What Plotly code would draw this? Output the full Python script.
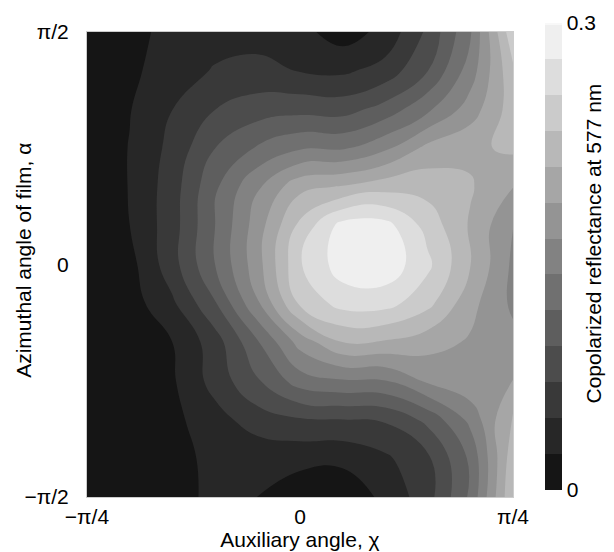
import math
import plotly.graph_objects as go

# Auxiliary angle chi (x) and azimuthal angle alpha (y) sample positions
chi = [-math.pi/4 + i*math.pi/20 for i in range(11)]
alpha = [-math.pi/2 + j*math.pi/12 for j in range(13)]

# Copolarized reflectance, rows from alpha=-pi/2 (bottom) to +pi/2 (top)
refl_r12 = [0.005, 0.007, 0.012, 0.030, 0.023, 0.009, 0.009, 0.028, 0.060, 0.120, 0.229]
refl_r11 = [0.005, 0.007, 0.014, 0.030, 0.030, 0.030, 0.028, 0.042, 0.065, 0.120, 0.222]
refl_r10 = [0.005, 0.007, 0.017, 0.037, 0.058, 0.067, 0.069, 0.072, 0.099, 0.145, 0.212]
refl_r9  = [0.005, 0.007, 0.020, 0.055, 0.090, 0.127, 0.136, 0.138, 0.166, 0.180, 0.185]
refl_r8  = [0.005, 0.009, 0.023, 0.058, 0.113, 0.171, 0.208, 0.205, 0.194, 0.182, 0.168]
refl_r7  = [0.005, 0.012, 0.042, 0.090, 0.159, 0.235, 0.263, 0.263, 0.238, 0.192, 0.157]
refl_r6  = [0.005, 0.015, 0.060, 0.115, 0.175, 0.252, 0.289, 0.293, 0.259, 0.208, 0.157]
refl_r5  = [0.005, 0.023, 0.059, 0.115, 0.173, 0.237, 0.286, 0.286, 0.245, 0.205, 0.162]
refl_r4  = [0.005, 0.024, 0.058, 0.111, 0.159, 0.201, 0.210, 0.222, 0.222, 0.210, 0.185]
refl_r3  = [0.005, 0.024, 0.053, 0.092, 0.118, 0.136, 0.136, 0.157, 0.192, 0.203, 0.212]
refl_r2  = [0.005, 0.022, 0.046, 0.069, 0.081, 0.085, 0.083, 0.102, 0.134, 0.173, 0.219]
refl_r1  = [0.005, 0.018, 0.035, 0.048, 0.053, 0.045, 0.042, 0.055, 0.092, 0.150, 0.226]
refl_r0  = [0.005, 0.014, 0.032, 0.037, 0.037, 0.030, 0.012, 0.030, 0.074, 0.136, 0.249]

z = [refl_r12, refl_r11, refl_r10, refl_r9, refl_r8, refl_r7, refl_r6,
     refl_r5, refl_r4, refl_r3, refl_r2, refl_r1, refl_r0]

x_tickvals = [-math.pi/4, 0, math.pi/4]
x_ticktext = ["\u2212\u03c0/4", "0", "\u03c0/4"]
y_tickvals = [-math.pi/2, 0, math.pi/2]
y_ticktext = ["\u2212\u03c0/2", "0", "\u03c0/2"]
cbar_tickvals = [0, 0.3]
cbar_ticktext = ["0", "0.3"]

n_levels = 13
zmax = 0.3
step = zmax / n_levels

font = dict(family="Liberation Sans, Arial, sans-serif", size=21, color="black")

fig = go.Figure(go.Contour(
    x=chi, y=alpha, z=z,
    contours=dict(start=0, end=zmax, size=step, coloring="fill", showlines=False),
    line=dict(width=0, smoothing=1.3),
    colorscale=[[0, "#0c0c0c"], [1, "#f8f8f8"]],
    zmin=0, zmax=zmax,
    colorbar=dict(
        x=1.075, xanchor="left", xpad=0,
        y=0.015, yanchor="bottom", len=1.004, lenmode="fraction", ypad=0,
        thickness=17, outlinewidth=0,
        tickvals=cbar_tickvals, ticktext=cbar_ticktext,
        ticks="", ticklen=4,
        tickfont=font,
    ),
    showscale=True,
    hoverinfo="skip",
))

fig.update_layout(
    width=614, height=552,
    margin=dict(l=87, r=101, t=32, b=55, autoexpand=False),
    paper_bgcolor="white", plot_bgcolor="white",
    font=font,
    annotations=[
        dict(
            text="Copolarized reflectance at 577 nm", textangle=-90,
            xref="paper", yref="paper", x=1.19, y=0.545,
            xanchor="center", yanchor="middle", showarrow=False, font=font,
        ),
        dict(
            text="Azimuthal angle of film, \u03b1", textangle=-90,
            xref="paper", yref="paper", x=-0.148, y=0.51,
            xanchor="center", yanchor="middle", showarrow=False, font=font,
        ),
    ],
)
fig.update_xaxes(
    range=[-math.pi/4, math.pi/4], tickvals=x_tickvals, ticktext=x_ticktext,
    showgrid=False, zeroline=False, ticks="", ticklabelstandoff=1, automargin=False,
    showline=True, linecolor="#cccccc", linewidth=1, mirror=True,
    title=dict(text="Auxiliary angle, \u03c7", standoff=0, font=font),
)
fig.update_yaxes(
    range=[-math.pi/2, math.pi/2], tickvals=y_tickvals, ticktext=y_ticktext,
    showgrid=False, zeroline=False, ticks="", ticklabelstandoff=13, automargin=False,
    showline=True, linecolor="#cccccc", linewidth=1, mirror=True,
)

fig.write_html(
    "out.html",
    config={"displayModeBar": False},
    post_script="document.body.style.margin='0';document.body.style.overflow='hidden';",
)
